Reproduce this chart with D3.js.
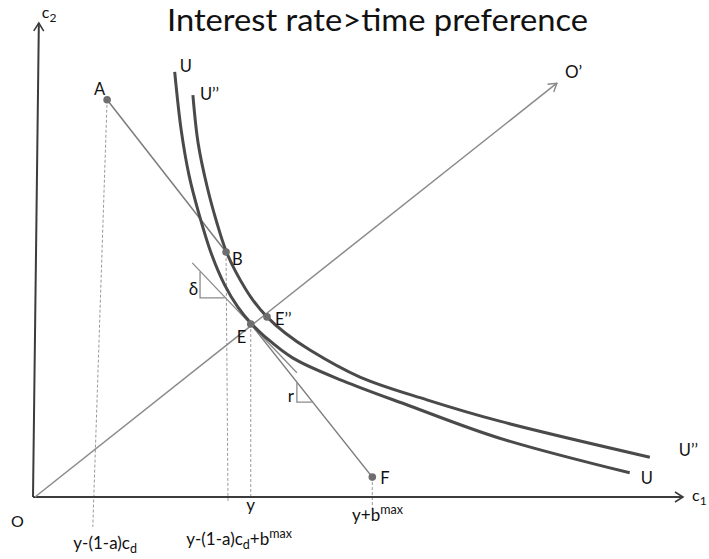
<!DOCTYPE html>
<html><head><meta charset="utf-8">
<script src="https://cdn.jsdelivr.net/npm/d3@7/dist/d3.min.js"></script>
<style>
body{margin:0;background:#fff}
text{font-family:Lato,"Open Sans",sans-serif;fill:#111}
</style>
</head><body>
<svg id="chart" width="709" height="559"></svg>
<script>
// ---------- data (c1, c2 in abstract units 0..100) ----------
const titleText = "Interest rate>time preference";

const curveU = [[21.8,89.7],[22.8,77.4],[24.0,67.9],[25.5,59.9],[27.5,51.1],[29.5,44.7],[31.5,40.1],[33.5,36.7],[35.7,33.8],[40.0,29.3],[47.7,24.5],[58.0,19.2],[71.8,12.4],[91.8,5.1]];
const curveU2 = [[24.6,84.8],[25.4,74.7],[26.8,65.4],[28.3,57.8],[29.7,51.9],[31.2,47.5],[33.7,41.8],[36.0,38.0],[38.8,34.6],[42.6,31.0],[50.3,25.3],[60.6,20.5],[71.8,16.0],[94.9,8.4]];

const pointNames = ["A","B","E","E\u2019\u2019","F"];
const pointC1 = [11.4, 29.7, 33.5, 36.0, 52.2];
const pointC2 = [83.8, 51.7, 36.5, 38.0, 4.2];

const budgetSegments = [["A","B"],["E","F"]];
const tangentLine = [[24.5,49.4],[40.6,26.2]];
const deltaTriangle = [[25.7,47.5],[25.7,42.0],[29.5,42.0]];
const rTriangle = [[40.6,24.1],[40.6,20.0],[42.9,20.0]];
const rayOO = [[0.3,0],[80.6,87.3]];
const yAxisLine = [[0,0],[0.9,100]];
const xAxisLine = [[0,0],[100,0]];

// dashed guides: from point down to tick
const guideTop = [[11.4,83.8],[29.7,51.5],[33.5,36.5],[52.2,4.2]];
const guideBottom = [[9.2,-6.3],[30.0,-1.1],[33.5,0],[52.2,-2.7]];

// tick labels along c1 axis
const tickC1 = [11.1, 31.7, 33.5, 53.0];

// ---------- drawing ----------
const svg = d3.select("#chart");
const x = d3.scaleLinear().domain([0,100]).range([33,683]);
const y = d3.scaleLinear().domain([0,100]).range([497,23]);
const line = d3.line().x(d=>x(d[0])).y(d=>y(d[1]));
const smooth = d3.line().x(d=>x(d[0])).y(d=>y(d[1])).curve(d3.curveCatmullRom.alpha(0.5));

const defs = svg.append("defs");
function marker(id,color,w){
  defs.append("marker").attr("id",id).attr("viewBox","-10 -6 12 12")
    .attr("markerWidth",12).attr("markerHeight",12).attr("refX",0).attr("refY",0)
    .attr("markerUnits","userSpaceOnUse").attr("orient","auto")
    .append("path").attr("d","M-8,-5 L0,0 L-8,5").attr("fill","none")
    .attr("stroke",color).attr("stroke-width",w);
}
marker("arrDark","#3c3c3c",1.6);
marker("arrGray","#888",1.4);

// title
svg.append("text").attr("x",167).attr("y",31).attr("font-size",31)
  .attr("textLength",421).attr("lengthAdjust","spacingAndGlyphs").text(titleText);

// dashed guides
guideTop.forEach((t,i)=>{
  svg.append("path").attr("d",line([t,guideBottom[i]])).attr("fill","none")
    .attr("stroke","#9a9a9a").attr("stroke-width",1).attr("stroke-dasharray","3,2");
});

// axes
svg.append("path").attr("d",line(yAxisLine)).attr("stroke","#3c3c3c").attr("stroke-width",2)
  .attr("fill","none").attr("marker-end","url(#arrDark)");
svg.append("path").attr("d",line(xAxisLine)).attr("stroke","#3c3c3c").attr("stroke-width",2)
  .attr("fill","none").attr("marker-end","url(#arrDark)");

// ray O-O'
svg.append("path").attr("d",line(rayOO)).attr("stroke","#8a8a8a").attr("stroke-width",1.5)
  .attr("fill","none").attr("marker-end","url(#arrGray)");

// budget line segments
const pt = {};
pointNames.forEach((n,i)=>pt[n]=[pointC1[i],pointC2[i]]);
budgetSegments.forEach(s=>{
  svg.append("path").attr("d",line([pt[s[0]],pt[s[1]]])).attr("stroke","#7c7c7c")
    .attr("stroke-width",1.5).attr("fill","none");
});
// tangent line at E
svg.append("path").attr("d",line(tangentLine)).attr("stroke","#8a8a8a").attr("stroke-width",1.3).attr("fill","none");
// triangles
[deltaTriangle,rTriangle].forEach(t=>{
  svg.append("path").attr("d",line(t)).attr("stroke","#8a8a8a").attr("stroke-width",1.3).attr("fill","none");
});

// indifference curves
[curveU,curveU2].forEach(c=>{
  svg.append("path").attr("d",smooth(c)).attr("stroke","#4a4a4a").attr("stroke-width",3)
    .attr("fill","none").attr("stroke-linecap","butt");
});

// points
svg.selectAll("circle.pt").data(pointNames).enter().append("circle").attr("class","pt")
  .attr("cx",(d,i)=>x(pointC1[i])).attr("cy",(d,i)=>y(pointC2[i])).attr("r",3.8).attr("fill","#6e6e6e");

// point labels (offsets in px)
const lfs = 16.5;
const labelOff = {"A":[-13,-5],"B":[6,13],"E":[-14,19],"E\u2019\u2019":[8,8],"F":[8,7]};
pointNames.forEach((n,i)=>{
  svg.append("text").attr("x",x(pointC1[i])+labelOff[n][0]).attr("y",y(pointC2[i])+labelOff[n][1])
    .attr("font-size",lfs).text(n);
});

// curve labels
svg.append("text").attr("x",x(curveU[0][0])+5).attr("y",y(curveU[0][1])).attr("font-size",lfs).text("U");
svg.append("text").attr("x",x(curveU2[0][0])+7).attr("y",y(curveU2[0][1])+5).attr("font-size",lfs).text("U\u2019\u2019");
svg.append("text").attr("x",x(curveU[curveU.length-1][0])+11).attr("y",y(curveU[curveU.length-1][1])+11).attr("font-size",lfs).text("U");
svg.append("text").attr("x",x(curveU2[curveU2.length-1][0])+29).attr("y",y(curveU2[curveU2.length-1][1])-1).attr("font-size",lfs).text("U\u2019\u2019");
svg.append("text").attr("x",x(rayOO[1][0])+8).attr("y",y(rayOO[1][1])-5).attr("font-size",17).text("O\u2019");

// slope labels
svg.append("text").attr("x",x(deltaTriangle[0][0])-2).attr("y",y(deltaTriangle[1][1])-3)
  .attr("text-anchor","end").attr("font-size",17).text("\u03b4");
svg.append("text").attr("x",x(rTriangle[0][0])-3).attr("y",y(rTriangle[1][1])).attr("text-anchor","end").attr("font-size",17).text("r");

// axis labels
const c2 = svg.append("text").attr("x",x(yAxisLine[1][0])+3).attr("y",18).attr("font-size",16);
c2.append("tspan").text("c");
c2.append("tspan").attr("font-size",12).attr("dy",4).text("2");
const c1 = svg.append("text").attr("x",x(xAxisLine[1][0])+9).attr("y",y(0)+4).attr("font-size",16);
c1.append("tspan").text("c");
c1.append("tspan").attr("font-size",12).attr("dy",4).text("1");
svg.append("text").attr("x",x(0)-22).attr("y",y(0)+30).attr("font-size",16).text("O");

// tick labels
function tick(c1v, yy, parts, anchor){
  const t = svg.append("text").attr("x",x(c1v)).attr("y",yy).attr("font-size",17).attr("text-anchor",anchor||"middle");
  parts.forEach(p=>{
    const s = t.append("tspan").text(p[0]);
    if(p[1]==="sub") s.attr("font-size",12.5).attr("dy",4);
    if(p[1]==="sup") s.attr("font-size",12.5).attr("dy",-7);
    if(p[1]==="back") s.attr("dy",-4);
  });
}
tick(tickC1[0], 549, [["y-(1-a)c"],["d","sub"]]);
tick(tickC1[1], 545, [["y-(1-a)c"],["d","sub"],["+b","back"],["max","sup"]]);
tick(tickC1[2], 511, [["y"]]);
tick(tickC1[3], 521, [["y+b"],["max","sup"]]);
</script>
</body></html>
